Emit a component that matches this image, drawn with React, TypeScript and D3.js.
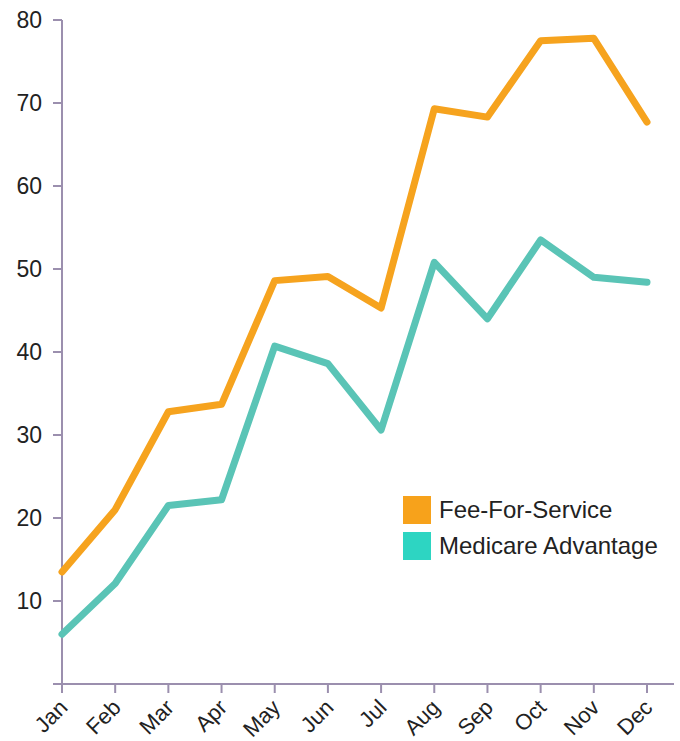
import React from "react";
import * as d3 from "d3";

const months = ["Jan", "Feb", "Mar", "Apr", "May", "Jun", "Jul", "Aug", "Sep", "Oct", "Nov", "Dec"];
const feeForService = [13.5, 21.0, 32.8, 33.7, 48.6, 49.1, 45.3, 69.3, 68.3, 77.5, 77.8, 67.7];
const medicareAdvantage = [6.0, 12.1, 21.5, 22.2, 40.7, 38.6, 30.6, 50.8, 44.0, 53.5, 49.0, 48.4];
const yTicks = [10, 20, 30, 40, 50, 60, 70, 80];

const series = [
  { name: "Fee-For-Service", values: feeForService, line: "#F6A31E", swatch: "#F7A21B" },
  { name: "Medicare Advantage", values: medicareAdvantage, line: "#5AC4B6", swatch: "#2DD5C2" },
];

const axisColor = "#9B8FAE";
const font = "'Liberation Sans', Arial, sans-serif";

export default function App() {
  const width = 680;
  const height = 741;
  const left = 62;
  const bottom = 684;

  const x = d3.scalePoint<string>().domain(months).range([left, 647]);
  const y = d3.scaleLinear().domain([0, 80]).range([bottom, 20]);

  const line = d3
    .line<number>()
    .x((_, i) => x(months[i]) as number)
    .y((d) => y(d));

  return (
    <svg
      width={width}
      height={height}
      style={{ position: "absolute", left: 0, top: 0, fontFamily: font }}
    >
      {/* y axis */}
      <line x1={left} x2={left} y1={y(80)} y2={bottom} stroke={axisColor} strokeWidth={2} />
      {yTicks.map((t) => (
        <g key={t} transform={`translate(0,${y(t)})`}>
          <line x1={left - 9} x2={left} stroke={axisColor} strokeWidth={2} />
          <text x={left - 20} dy="0.36em" textAnchor="end" fontSize={23} fill="#222">
            {t}
          </text>
        </g>
      ))}

      {/* x axis */}
      <line x1={left - 9} x2={674} y1={bottom} y2={bottom} stroke={axisColor} strokeWidth={2} />
      {months.map((m) => (
        <g key={m} transform={`translate(${x(m)},${bottom})`}>
          <line y1={0} y2={9} stroke={axisColor} strokeWidth={2} />
          <text
            transform="translate(-4,14) rotate(-45)"
            textAnchor="end"
            dy="0.7em"
            fontSize={22}
            fill="#222"
          >
            {m}
          </text>
        </g>
      ))}

      {/* lines */}
      {series.map((s) => (
        <path
          key={s.name}
          d={line(s.values) || ""}
          fill="none"
          stroke={s.line}
          strokeWidth={7}
          strokeLinejoin="round"
          strokeLinecap="round"
        />
      ))}

      {/* legend */}
      {series.map((s, i) => (
        <g key={s.name} transform={`translate(403,${496 + i * 36})`}>
          <rect width={28} height={28} fill={s.swatch} />
          <text x={36} y={14} dy="0.35em" fontSize={24} fill="#222">
            {s.name}
          </text>
        </g>
      ))}
    </svg>
  );
}
